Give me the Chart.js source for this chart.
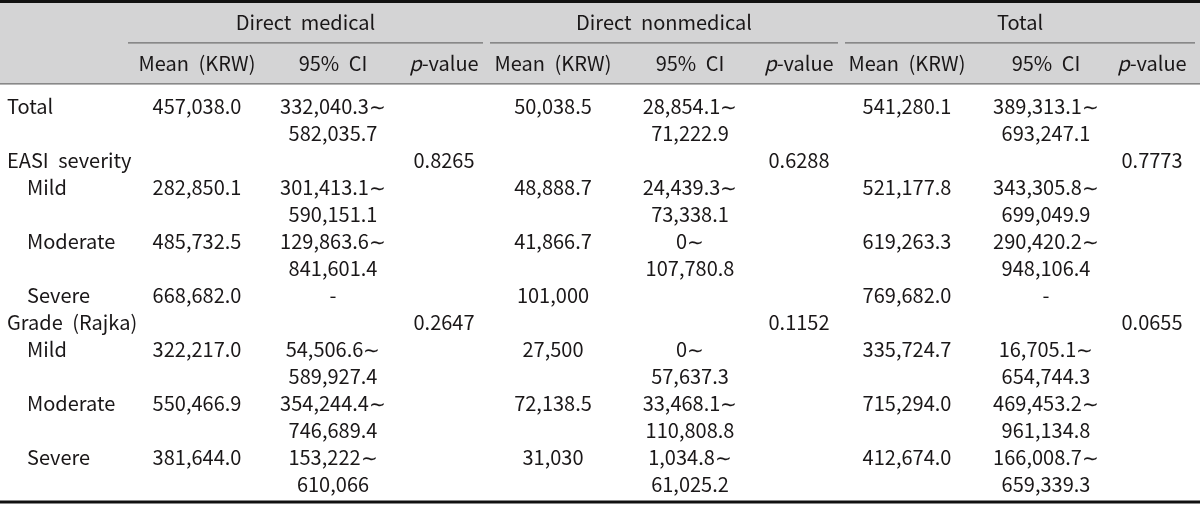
<!DOCTYPE html>
<html>
<head>
<meta charset="utf-8">
<script src="https://cdn.jsdelivr.net/npm/chart.js@4"></script>
<style>
  html, body { margin: 0; padding: 0; background: #fff; }
</style>
</head>
<body>
<canvas id="costTable" width="1200" height="506"></canvas>
<script>
// --- table data ---
var groups = ['Direct medical', 'Direct nonmedical', 'Total'];
var subHeads = ['Mean (KRW)', '95% CI', 'p-value'];

var rowLabels = ['Total', 'EASI severity', 'Mild', 'Moderate', 'Severe', 'Grade (Rajka)', 'Mild', 'Moderate', 'Severe'];
var rowLevel = [0, 0, 1, 1, 1, 0, 1, 1, 1];

var medMean = ['457,038.0', '', '282,850.1', '485,732.5', '668,682.0', '', '322,217.0', '550,466.9', '381,644.0'];
var medCI = [['332,040.3', '582,035.7'], null, ['301,413.1', '590,151.1'], ['129,863.6', '841,601.4'], '-', null,
             ['54,506.6', '589,927.4'], ['354,244.4', '746,689.4'], ['153,222', '610,066']];
var medP = ['', '0.8265', '', '', '', '0.2647', '', '', ''];

var nonMean = ['50,038.5', '', '48,888.7', '41,866.7', '101,000', '', '27,500', '72,138.5', '31,030'];
var nonCI = [['28,854.1', '71,222.9'], null, ['24,439.3', '73,338.1'], ['0', '107,780.8'], null, null,
             ['0', '57,637.3'], ['33,468.1', '110,808.8'], ['1,034.8', '61,025.2']];
var nonP = ['', '0.6288', '', '', '', '0.1152', '', '', ''];

var totMean = ['541,280.1', '', '521,177.8', '619,263.3', '769,682.0', '', '335,724.7', '715,294.0', '412,674.0'];
var totCI = [['389,313.1', '693,247.1'], null, ['343,305.8', '699,049.9'], ['290,420.2', '948,106.4'], '-', null,
             ['16,705.1', '654,744.3'], ['469,453.2', '961,134.8'], ['166,008.7', '659,339.3']];
var totP = ['', '0.7773', '', '', '', '0.0655', '', '', ''];

// --- layout (x in table units, y in text-line units) ---
var COLS = [197, 333, 444, 553, 690, 799, 907, 1046, 1152];
var LABEL_X = [7, 27];
var GROUP_SPANS = [[128, 483], [490, 838], [845, 1195]];
var Y = { top: -3.87, groupHead: -3.11, groupRule: -2.34, subHead: -1.59, headRule: -0.82, bottom: 14.66 };
var FONT = '"Noto Sans CJK KR", "Noto Sans", sans-serif';
var SIZE = '20px ';
var INK = '#1a1718';

var blocks = [[medMean, medCI, medP], [nonMean, nonCI, nonP], [totMean, totCI, totP]];

// line index where each row starts
var rowStart = [];
var line = 0;
rowLabels.forEach(function (lab, i) {
  rowStart.push(line);
  var n = 1;
  blocks.forEach(function (b) { if (Array.isArray(b[1][i])) n = 2; });
  line += n;
});

var tablePlugin = {
  id: 'tableCells',
  afterDraw: function (chart) {
    var ctx = chart.ctx, sx = chart.scales.x, sy = chart.scales.y;
    var X = function (v) { return sx.getPixelForValue(v); };
    var Yp = function (v) { return sy.getPixelForValue(v); };
    ctx.save();

    // header band
    ctx.fillStyle = '#d4d4d5';
    ctx.fillRect(X(0), Yp(Y.top), X(1200) - X(0), Yp(Y.headRule) - Yp(Y.top));

    // rules
    function rule(x0, x1, yv, w, c) {
      ctx.beginPath();
      ctx.strokeStyle = c; ctx.lineWidth = w;
      ctx.moveTo(X(x0), Yp(yv)); ctx.lineTo(X(x1), Yp(yv));
      ctx.stroke();
    }
    rule(0, 1200, Y.top, 3, '#111');
    rule(0, 1200, Y.bottom, 3, '#111');
    rule(0, 1200, Y.headRule, 1.3, '#6f6f6f');
    GROUP_SPANS.forEach(function (s) { rule(s[0], s[1], Y.groupRule, 1.3, '#6f6f6f'); });

    ctx.fillStyle = INK;
    ctx.textBaseline = 'middle';
    ctx.font = SIZE + FONT;
    ctx.wordSpacing = '5px';

    function text(str, xv, yv, align) {
      ctx.textAlign = align || 'center';
      ctx.fillText(str, X(xv), Yp(yv));
    }

    // group headers
    groups.forEach(function (g, gi) {
      text(g, (GROUP_SPANS[gi][0] + GROUP_SPANS[gi][1]) / 2, Y.groupHead);
    });

    // sub headers
    COLS.forEach(function (cx, ci) {
      var h = subHeads[ci % 3];
      if (h === 'p-value') {
        ctx.font = 'italic ' + SIZE + FONT;
        var w1 = ctx.measureText('p').width;
        ctx.font = SIZE + FONT;
        var w2 = ctx.measureText('-value').width;
        var left = X(cx) - (w1 + w2) / 2;
        ctx.textAlign = 'left';
        ctx.font = 'italic ' + SIZE + FONT;
        ctx.fillText('p', left, Yp(Y.subHead));
        ctx.font = SIZE + FONT;
        ctx.fillText('-value', left + w1, Yp(Y.subHead));
      } else {
        text(h, cx, Y.subHead);
      }
    });

    // body rows
    rowLabels.forEach(function (lab, i) {
      var l0 = rowStart[i];
      text(lab, LABEL_X[rowLevel[i]], l0, 'left');
      blocks.forEach(function (b, bi) {
        var mean = b[0][i], ci = b[1][i], p = b[2][i];
        if (mean) text(mean, COLS[bi * 3], l0);
        if (Array.isArray(ci)) {
          text(ci[0] + '\u223c', COLS[bi * 3 + 1], l0);
          text(ci[1], COLS[bi * 3 + 1], l0 + 1);
        } else if (ci) {
          text(ci, COLS[bi * 3 + 1], l0);
        }
        if (p) text(p, COLS[bi * 3 + 2], l0);
      });
    });
    ctx.restore();
  }
};

new Chart(document.getElementById('costTable'), {
  type: 'scatter',
  data: { datasets: [{ data: [], pointRadius: 0 }] },
  options: {
    responsive: false,
    animation: false,
    events: [],
    layout: { padding: 0 },
    plugins: { legend: { display: false }, tooltip: { enabled: false } },
    scales: {
      x: { type: 'linear', min: 0, max: 1200, display: false },
      y: { type: 'linear', min: -3.93, max: 14.81, reverse: true, display: false }
    }
  },
  plugins: [tablePlugin]
});
</script>
</body>
</html>
